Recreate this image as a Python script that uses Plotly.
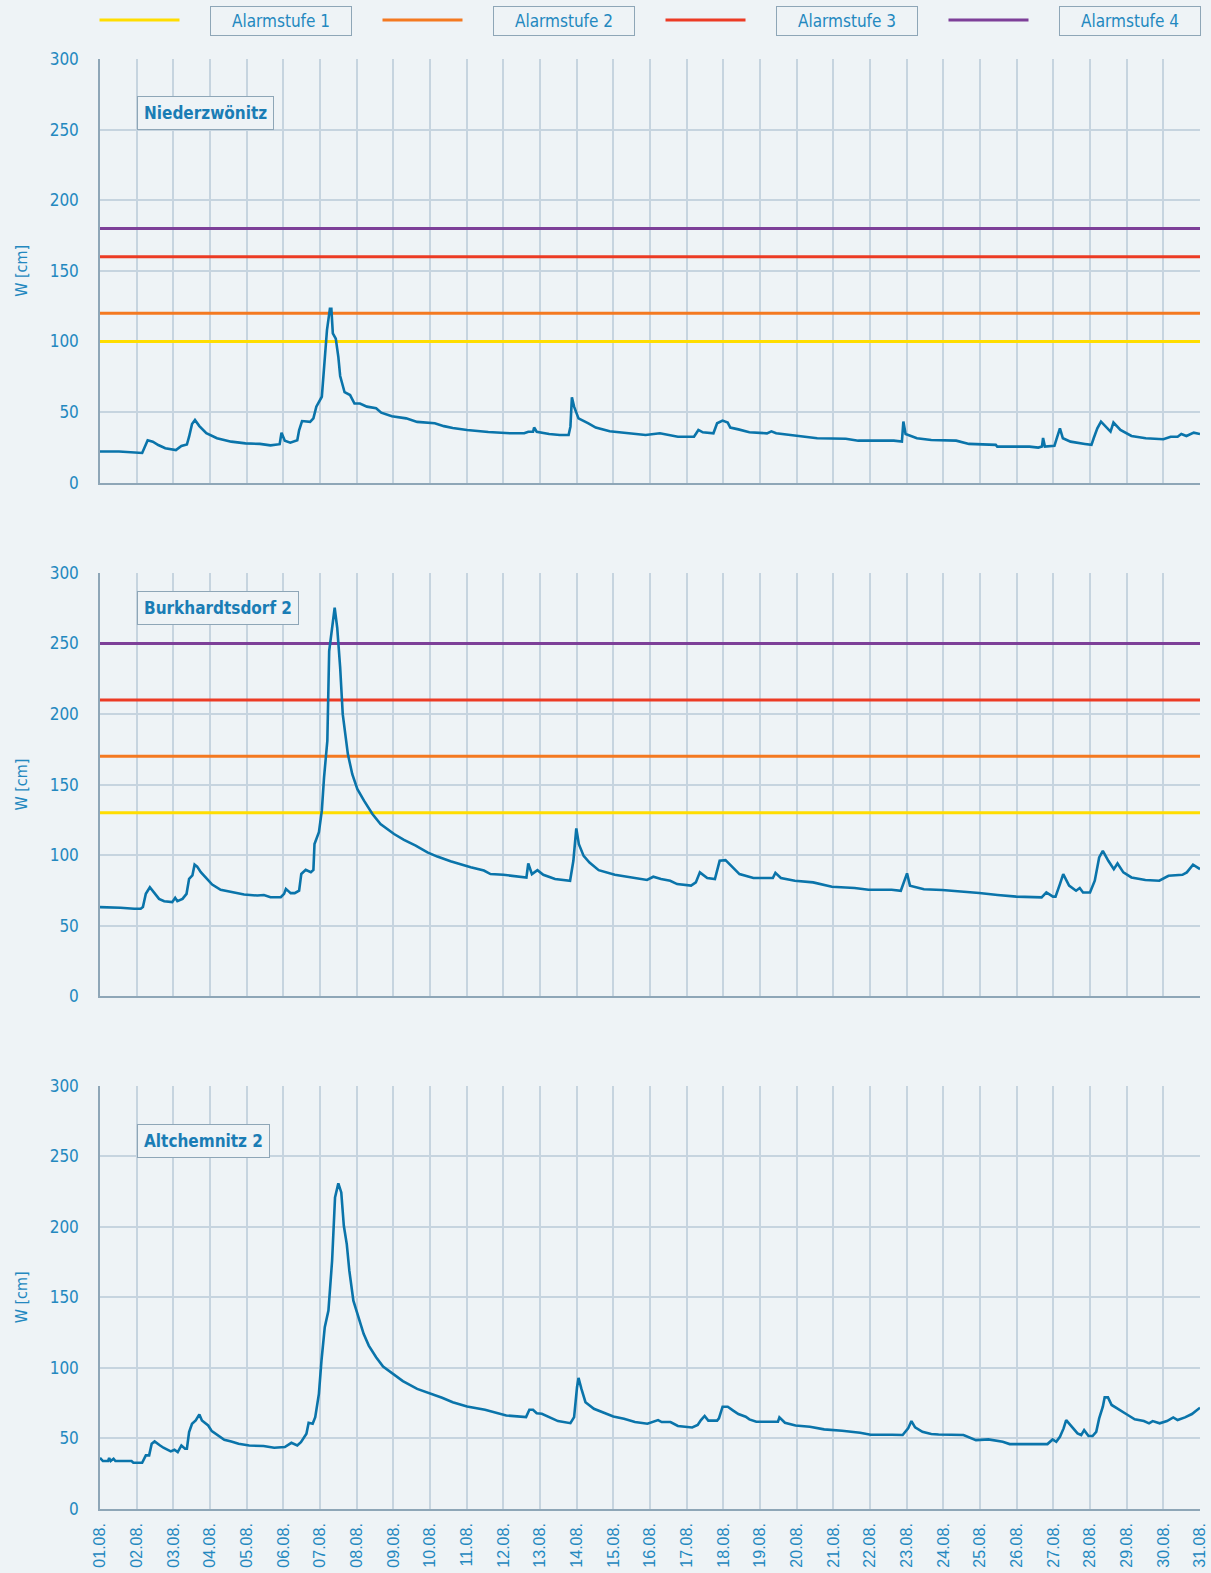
import plotly.graph_objects as go
from plotly.subplots import make_subplots

# --- data ---
days = list(range(1, 32))
day_labels = [f"{d:02d}.08." for d in days]

alarm_names = ["Alarmstufe 1", "Alarmstufe 2", "Alarmstufe 3", "Alarmstufe 4"]
alarm_colors = ["#ffdd00", "#f47920", "#ec3b24", "#7d3f98"]
alarms_nied = [100, 120, 160, 180]
alarms_burk = [130, 170, 210, 250]

stations = ["Niederzwönitz", "Burkhardtsdorf 2", "Altchemnitz 2"]

t_nied = [1.00, 1.52, 2.15, 2.30, 2.44, 2.59, 2.78, 2.97, 3.07, 3.22, 3.37, 3.43, 3.51, 3.59,
          3.71, 3.90, 4.19, 4.58, 4.97, 5.36, 5.65, 5.90, 5.95, 6.04, 6.19, 6.38, 6.43, 6.51,
          6.73, 6.82, 6.90, 7.05, 7.11, 7.19, 7.27, 7.31, 7.35, 7.43, 7.50, 7.55, 7.67, 7.82,
          7.94, 8.09, 8.28, 8.53, 8.67, 8.96, 9.35, 9.65, 10.13, 10.38, 10.62, 11.01, 11.59,
          12.18, 12.57, 12.68, 12.81, 12.84, 12.91, 13.25, 13.54, 13.78, 13.83, 13.87, 13.93,
          14.05, 14.32, 14.52, 14.90, 15.49, 15.88, 16.27, 16.76, 17.20, 17.32, 17.44, 17.73,
          17.83, 17.98, 18.12, 18.19, 18.41, 18.71, 19.19, 19.31, 19.44, 19.97, 20.56, 21.34,
          21.68, 22.65, 22.82, 22.87, 22.91, 22.97, 23.28, 23.67, 24.35, 24.70, 25.43, 25.47,
          26.35, 26.59, 26.69, 26.72, 26.77, 27.03, 27.08, 27.18, 27.26, 27.47, 27.86, 28.04,
          28.10, 28.20, 28.30, 28.44, 28.56, 28.64, 28.83, 29.13, 29.52, 30.00, 30.20, 30.39,
          30.49, 30.63, 30.83, 31.00]
w_nied = [22, 22, 21, 30, 29, 26.6, 24.3, 23.6, 23, 26, 27, 32.5, 41.5, 44.3,
          40, 35, 31.4, 29, 27.8, 27.4, 26.4, 27.2, 35.4, 29.7, 28.3, 30, 37, 43.6,
          43, 45.5, 53.8, 60.8, 80, 108, 123, 123, 105.7, 102, 89, 75.5, 64, 62,
          56, 56, 53.8, 52.6, 49.5, 47, 45.5, 43, 42, 40, 38.7, 37.3, 35.8,
          34.9, 34.9, 36, 36, 39, 36, 34.4, 33.7, 33.7, 39.6, 60.4, 53.8,
          45.5, 42, 39, 36.3, 34.9, 33.7, 34.9, 32.5, 32.5, 37.3, 35.6, 34.9,
          42, 43.9, 42.5, 39, 37.7, 35.6, 34.9, 36.3, 34.9, 33, 31.4, 31.1,
          29.7, 29.7, 29, 29, 43.2, 34.4, 31.4, 30.2, 29.7, 27.4, 26.7, 25.5,
          25.5, 24.8, 25.5, 31.6, 25.5, 26, 30.2, 38.4, 31.4, 29, 27.4, 26.7,
          31.4, 38.4, 43.2, 39.6, 36.1, 42.5, 37.3, 33, 31.4, 30.7, 32.5, 32.5,
          34.4, 33, 35.4, 34.4]

t_burk = [1.00, 1.29, 1.56, 1.93, 2.11, 2.17, 2.25, 2.36, 2.47, 2.61, 2.75, 2.97, 3.05, 3.11,
          3.25, 3.36, 3.43, 3.52, 3.58, 3.65, 3.75, 3.88, 4.06, 4.29, 4.56, 4.93, 5.29, 5.47,
          5.65, 5.93, 6.02, 6.07, 6.20, 6.31, 6.43, 6.49, 6.61, 6.75, 6.82, 6.85, 6.97, 7.05,
          7.11, 7.20, 7.25, 7.32, 7.40, 7.47, 7.55, 7.62, 7.70, 7.76, 7.88, 8.02, 8.20, 8.43,
          8.65, 9.02, 9.29, 9.61, 9.93, 10.20, 10.56, 10.84, 11.11, 11.47, 11.65, 12.00, 12.53,
          12.63, 12.68, 12.78, 12.93, 13.09, 13.41, 13.72, 13.82, 13.91, 13.99, 14.06, 14.19,
          14.35, 14.60, 15.04, 15.55, 15.92, 16.09, 16.30, 16.55, 16.74, 17.12, 17.25, 17.36,
          17.56, 17.77, 17.90, 18.06, 18.25, 18.44, 18.82, 19.35, 19.42, 19.57, 19.95, 20.45,
          20.96, 21.58, 21.96, 22.59, 22.84, 22.92, 23.01, 23.09, 23.47, 23.97, 24.23, 24.54,
          24.98, 25.48, 25.99, 26.68, 26.81, 26.99, 27.06, 27.18, 27.27, 27.43, 27.62, 27.72,
          27.81, 28.00, 28.13, 28.25, 28.35, 28.50, 28.65, 28.75, 28.91, 29.13, 29.51, 29.89,
          30.14, 30.52, 30.64, 30.81, 31.00]
w_burk = [63.2, 63.2, 62.7, 62, 62, 63.2, 72.6, 77.3, 73.8, 69, 67.4, 66.7, 69.8, 67.4,
          69, 72.6, 83.2, 85.6, 93.3, 91.9, 87.9, 84.4, 79.2, 75.4, 73.8, 72.1, 71.4, 71.8,
          70.2, 70.2, 72.6, 76.1, 73.1, 73.1, 74.9, 86.7, 89.6, 87.9, 89.6, 107.9, 116.2, 131.5,
          155, 181, 244.6, 261, 275.3, 261, 232.9, 199.9, 185.7, 171.6, 157.4, 146.8, 138.6, 129.2,
          122.1, 115, 110.8, 106.8, 102, 99, 95.7, 93.3, 91.4, 89.1, 86.6, 86.1, 84.2,
          84.2, 94.1, 86.6, 89.4, 86.1, 83.1, 82.4, 81.9, 96, 119, 107.8, 99.5,
          94.8, 89.4, 86.1, 84.2, 82.4, 84.7, 83.1, 81.9, 79.5, 78.4, 80.7, 87.8,
          83.8, 83.1, 96, 96.5, 91.3, 86.6, 83.8, 83.8, 87.5, 83.8, 81.9, 80.7,
          77.6, 76.7, 75.5, 75.5, 74.8, 80.7, 87.1, 78.4, 75.8, 75.3, 74.8, 74.4,
          73.2, 71.8, 70.6, 70.1, 73.6, 70.6, 70.6, 79.5, 86.6, 78.4, 74.8, 76.7,
          73.6, 73.6, 81.9, 98.4, 103.1, 96, 90.1, 94.1, 87.8, 84.2, 82.4, 81.9,
          85.4, 86.1, 87.8, 93.2, 90.1]

t_alt = [1.00, 1.08, 1.22, 1.25, 1.29, 1.37, 1.42, 1.86, 1.91, 2.15, 2.25, 2.34, 2.41, 2.49,
         2.64, 2.73, 2.93, 3.03, 3.12, 3.22, 3.32, 3.37, 3.43, 3.51, 3.61, 3.71, 3.78, 3.95,
         4.05, 4.24, 4.39, 4.58, 4.78, 5.07, 5.46, 5.75, 6.04, 6.22, 6.38, 6.48, 6.63, 6.69,
         6.80, 6.87, 6.97, 7.04, 7.13, 7.23, 7.33, 7.41, 7.50, 7.58, 7.65, 7.73, 7.80, 7.91,
         8.04, 8.19, 8.33, 8.53, 8.72, 8.96, 9.26, 9.65, 9.99, 10.33, 10.62, 11.01, 11.50,
         12.08, 12.62, 12.71, 12.81, 12.91, 13.05, 13.35, 13.49, 13.83, 13.93, 14.01, 14.05,
         14.13, 14.24, 14.47, 14.71, 15.00, 15.29, 15.59, 15.93, 16.08, 16.22, 16.32, 16.56,
         16.76, 17.15, 17.30, 17.39, 17.49, 17.59, 17.83, 17.88, 17.98, 18.12, 18.27, 18.41,
         18.61, 18.71, 18.90, 19.49, 19.53, 19.68, 19.97, 20.36, 20.75, 21.24, 21.73, 22.02,
         22.60, 22.89, 23.04, 23.13, 23.23, 23.43, 23.67, 23.87, 24.55, 24.74, 24.89, 25.23,
         25.62, 25.81, 26.40, 26.84, 26.98, 27.08, 27.18, 27.28, 27.35, 27.52, 27.66, 27.76,
         27.84, 27.96, 28.07, 28.17, 28.25, 28.35, 28.40, 28.49, 28.59, 28.74, 28.83, 29.03,
         29.22, 29.47, 29.61, 29.71, 29.90, 30.10, 30.27, 30.39, 30.59, 30.78, 31.00]
w_alt = [36.3, 34, 34, 36.1, 34, 35.6, 34, 34, 32.8, 32.8, 38, 38, 46.2, 47.9,
         45, 43.4, 40.8, 42, 40.3, 45, 42.7, 42.7, 54.5, 60.4, 62.7, 67, 62.7, 59.2,
         55.2, 52.1, 49.1, 47.9, 46.2, 45, 44.6, 43.4, 43.9, 46.9, 45, 47.4, 53.3, 61.1,
         60.4, 65.1, 81.6, 105.2, 128.8, 140.6, 175.9, 220.8, 230.7, 224.3, 200.7, 187.7, 168.9, 147.6,
         135.8, 124.1, 115.8, 107.5, 100.9, 96.2, 90.6, 85.1, 82.1, 78.8, 75.7, 72.6, 70.3,
         66.3, 65.1, 70.3, 70.3, 67.9, 67.5, 63.9, 62.3, 60.8, 65.1, 86.3, 92.9,
         85.1, 75.7, 71, 68.6, 65.6, 63.9, 61.6, 60.4, 61.8, 63, 61.6, 61.6,
         58.8, 57.8, 59.5, 63, 65.9, 62.6, 62.6, 64.2, 72.5, 72.5, 69.7, 67.3,
         65.4, 63.5, 61.8, 61.8, 64.9, 61.1, 59.2, 58.3, 56.4, 55.5, 54, 52.6,
         52.6, 52.4, 57.1, 62.3, 57.8, 54.7, 53.1, 52.8, 52.4, 50.7, 48.8, 49.3,
         47.6, 46, 46, 46, 49.3, 47.6, 51.2, 57.1, 63, 57.8, 53.6, 52.4,
         55.9, 51.7, 51.7, 54.7, 64.2, 72.5, 79.1, 79.1, 73.7, 71.3, 69.7, 66.6,
         63.5, 62.3, 60.7, 62.3, 60.7, 62.3, 64.9, 63, 64.9, 67.3, 71.8]

series_t = [t_nied, t_burk, t_alt]
series_w = [w_nied, w_burk, w_alt]
series_alarms = [alarms_nied, alarms_burk, None]

bg = '#eef3f6'
txt = '#2388bf'
grid = '#c6d4df'
axis = '#8ea6b7'
line_blue = '#0a74aa'
font_main = 'Liberation Sans Narrow, DejaVu Sans Condensed, Roboto'

W, H = 1211, 1573
ml, mr, mt, mb = 100, 11, 59, 64
ph = H - mt - mb
pw = W - ml - mr

def py(y):  # pixel row -> paper fraction
    return (H - mb - y) / ph

def px(x):  # pixel column -> paper fraction
    return (x - ml) / pw

panel_px = [(59, 482.6), (572.9, 996.3), (1085.6, 1509)]

fig = make_subplots(rows=3, cols=1)

for i in range(3):
    row = i + 1
    if series_alarms[i]:
        for lvl, col in zip(series_alarms[i], alarm_colors):
            fig.add_trace(go.Scatter(x=[days[0], days[-1]], y=[lvl, lvl], mode='lines',
                                     line=dict(color=col, width=3), hoverinfo='skip',
                                     showlegend=False), row=row, col=1)
    fig.add_trace(go.Scatter(x=series_t[i], y=series_w[i], mode='lines', name=stations[i],
                             line=dict(color=line_blue, width=2.6), showlegend=False),
                  row=row, col=1)

for i, (top, bot) in enumerate(panel_px):
    sfx = '' if i == 0 else str(i + 1)
    fig.layout['yaxis' + sfx].update(
        domain=[py(bot), py(top)], range=[0, 300], tickvals=[0, 50, 100, 150, 200, 250, 300],
        showgrid=True, gridcolor=grid, gridwidth=1.5, zeroline=False, automargin=False,
        showline=True, linecolor=axis, linewidth=1.5, ticks='', ticklabelstandoff=16,
        tickfont=dict(family=font_main, size=17, color=txt),
        title=dict(text='W [cm]', standoff=18, font=dict(family=font_main, size=16, color=txt)))
    fig.layout['xaxis' + sfx].update(
        range=[days[0], days[-1]], tickvals=days, ticktext=day_labels, showticklabels=(i == 2),
        showgrid=True, gridcolor=grid, gridwidth=1.5, zeroline=False, automargin=False,
        showline=True, linecolor=axis, linewidth=1.5, mirror=False, ticks='',
        tickangle=-90, ticklabelstandoff=6,
        tickfont=dict(family='Liberation Sans, Arial', size=16, color=txt))

# station labels
label_y = [262, 275, 261]
for i in range(3):
    sfx = '' if i == 0 else str(i + 1)
    fig.add_annotation(xref='x' + sfx, yref='y' + sfx, x=days[1], y=label_y[i], xanchor='left',
                       yanchor='middle', text='<b>' + stations[i] + '</b>', showarrow=False,
                       font=dict(family='DejaVu Sans Condensed, Liberation Sans Narrow, Roboto', size=17, color='#1a7db5'),
                       bordercolor=axis, borderwidth=1, borderpad=6, bgcolor=bg)

# legend across the top
for i in range(4):
    x0 = 99.5 + 283 * i
    fig.add_shape(type='line', xref='paper', yref='paper', x0=px(x0), x1=px(x0 + 80),
                  y0=py(20), y1=py(20), line=dict(color=alarm_colors[i], width=3))
    fig.add_annotation(xref='paper', yref='paper', x=px(x0 + 181), y=py(21.5), xanchor='center',
                       yanchor='middle', text=alarm_names[i], showarrow=False, width=134, height=22,
                       font=dict(family=font_main, size=17, color=txt),
                       bordercolor=axis, borderwidth=1, borderpad=3, bgcolor=bg)

fig.update_layout(width=W, height=H, margin=dict(l=ml, r=mr, t=mt, b=mb),
                  paper_bgcolor=bg, plot_bgcolor=bg, showlegend=False)

fig.write_html("out.html", config={'displayModeBar': False},
               post_script="document.body.style.margin='0';document.body.style.overflow='hidden';")
